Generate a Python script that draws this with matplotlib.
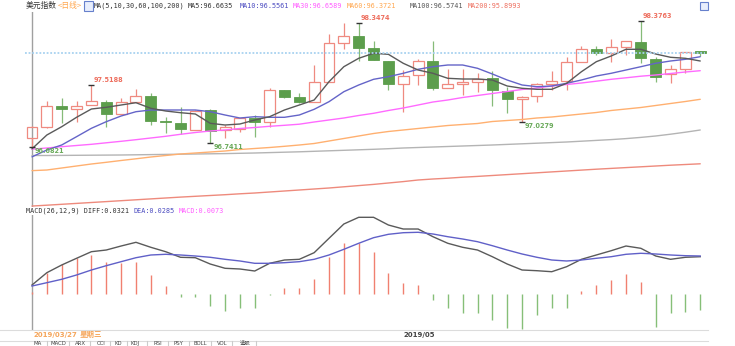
import matplotlib
matplotlib.use('Agg')
import matplotlib.pyplot as plt
from matplotlib.patches import Rectangle
from matplotlib.lines import Line2D

W, H = 735, 346

# ---------------- data ----------------
opens = [96.8119, 96.9587, 97.2391, 97.1910, 97.2444, 97.2925, 97.1243, 97.2925, 97.3726, 97.0388,
         97.0121, 96.9147, 97.1817, 96.9147, 96.9280, 97.0709, 97.0175, 97.4487, 97.3513, 97.2925,
         97.5595, 98.0802, 98.1697, 98.0054, 97.8359, 97.5248, 97.6490, 97.8359, 97.4714, 97.5248,
         97.5515, 97.6049, 97.4393, 97.3285, 97.3686, 97.5248, 97.5729, 97.8185, 97.9961, 97.9387,
         98.0268, 98.0935, 97.8626, 97.6583, 97.7291, 97.9694]
closes = [96.9587, 97.2391, 97.1910, 97.2351, 97.2978, 97.1283, 97.2925, 97.3726, 97.0388, 97.0255,
          96.9240, 97.1723, 96.9013, 96.9587, 97.0709, 97.0175, 97.4487, 97.3593, 97.2925, 97.5515,
          98.0722, 98.1697, 98.0054, 97.8492, 97.5248, 97.6396, 97.8399, 97.4714, 97.5248, 97.5555,
          97.5915, 97.4487, 97.3285, 97.3593, 97.5248, 97.5729, 97.8185, 97.9961, 97.9387, 98.0188,
          98.1029, 97.8719, 97.6263, 97.7291, 97.9600, 97.9387]
highs = [96.9650, 97.3018, 97.3379, 97.3018, 97.5188, 97.3152, 97.3379, 97.4621, 97.4127, 97.0842,
         97.2177, 97.1817, 97.1950, 96.9750, 97.0709, 97.1149, 97.4794, 97.4487, 97.4127, 97.7825,
         98.1964, 98.3392, 98.3474, 98.1069, 97.8399, 97.7157, 97.8586, 98.1069, 97.7251, 97.7251,
         97.6797, 97.7064, 97.4848, 97.3686, 97.5462, 97.7064, 97.8853, 98.0402, 98.0402, 98.1256,
         98.1029, 98.3763, 97.8933, 97.7825, 97.9600, 97.9694]
lows = [96.6821, 96.9480, 97.0041, 97.0255, 97.2444, 96.9587, 97.1243, 97.2925, 96.9814, 96.8706,
        96.8613, 96.9147, 96.7411, 96.8038, 96.8920, 96.8172, 96.9587, 97.3379, 97.2818, 97.2925,
        97.5595, 97.9921, 97.8399, 97.8492, 97.4487, 97.1590, 97.5155, 97.4487, 97.4714, 97.3819,
        97.4260, 97.2351, 97.1376, 97.0279, 97.2845, 97.4487, 97.4487, 97.8185, 97.9160, 97.8265,
        97.9160, 97.8052, 97.5595, 97.5462, 97.6797, 97.9026]

ma5 = [96.6635, 96.8479, 96.9587, 97.0842, 97.1950, 97.2177, 97.2484, 97.2791, 97.2044, 97.1683,
       97.1456, 97.1283, 97.0041, 96.9814, 96.9948, 97.0482, 97.0922, 97.1817, 97.2484, 97.3152,
       97.5595, 97.7598, 97.8719, 97.9387, 97.9253, 97.8052, 97.7157, 97.6717, 97.6049, 97.5955,
       97.5955, 97.5822, 97.5021, 97.4714, 97.4580, 97.4580, 97.5382, 97.6930, 97.8265, 97.9026,
       97.9921, 97.9921, 97.9293, 97.8853, 97.8719, 97.8359]
ma10 = [96.5561, 96.6476, 96.7144, 96.8252, 96.9374, 97.0255, 97.1016, 97.1590, 97.1817, 97.1817,
        97.1817, 97.1817, 97.1590, 97.1149, 97.0749, 97.0922, 97.0842, 97.0842, 97.1149, 97.1910,
        97.2925, 97.4260, 97.5155, 97.5915, 97.6263, 97.6717, 97.7251, 97.7598, 97.7825, 97.7825,
        97.7384, 97.6623, 97.5822, 97.5155, 97.4928, 97.5021, 97.5382, 97.5822, 97.6356, 97.6717,
        97.7157, 97.7598, 97.8052, 97.8359, 97.8586, 97.8933]
ma30 = [96.6589, 96.6743, 96.6917, 96.7077, 96.7237, 96.7438, 96.7638, 96.7852, 96.8079, 96.8306,
        96.8573, 96.8813, 96.9013, 96.9147, 96.9347, 96.9480, 96.9641, 96.9774, 96.9921, 97.0215,
        97.0482, 97.0749, 97.1083, 97.1376, 97.1750, 97.2084, 97.2484, 97.2885, 97.3152, 97.3486,
        97.3753, 97.4020, 97.4287, 97.4554, 97.4754, 97.5021, 97.5221, 97.5422, 97.5662, 97.5915,
        97.6116, 97.6330, 97.6490, 97.6690, 97.6890, 97.7064]
ma60 = [96.3721, 96.3806, 96.4073, 96.4340, 96.4607, 96.4834, 96.5075, 96.5302, 96.5542, 96.5742,
        96.5942, 96.6076, 96.6209, 96.6343, 96.6543, 96.6677, 96.6810, 96.6970, 96.7144, 96.7344,
        96.7678, 96.8012, 96.8346, 96.8679, 96.8946, 96.9147, 96.9347, 96.9547, 96.9747, 96.9881,
        97.0014, 97.0281, 97.0415, 97.0548, 97.0749, 97.0882, 97.1083, 97.1283, 97.1483, 97.1750,
        97.1950, 97.2151, 97.2418, 97.2685, 97.2952, 97.3245]
ma100 = [96.5741, 96.5742, 96.5755, 96.5769, 96.5782, 96.5796, 96.5809, 96.5836, 96.5862, 96.5889,
         96.5916, 96.5942, 96.5969, 96.5996, 96.6036, 96.6076, 96.6129, 96.6183, 96.6236, 96.6303,
         96.6370, 96.6436, 96.6503, 96.6570, 96.6650, 96.6743, 96.6810, 96.6877, 96.6944, 96.7010,
         96.7077, 96.7144, 96.7224, 96.7304, 96.7384, 96.7464, 96.7545, 96.7651, 96.7758, 96.7865,
         96.7998, 96.8159, 96.8346, 96.8586, 96.8853, 96.9147]
ma200 = [95.8993, 95.9107, 95.9227, 95.9347, 95.9467, 95.9587, 95.9708, 95.9828, 95.9948, 96.0068,
         96.0188, 96.0295, 96.0402, 96.0508, 96.0629, 96.0735, 96.0869, 96.1003, 96.1136, 96.1270,
         96.1403, 96.1563, 96.1724, 96.1884, 96.2071, 96.2258, 96.2471, 96.2605, 96.2711, 96.2845,
         96.2952, 96.3072, 96.3192, 96.3312, 96.3432, 96.3553, 96.3673, 96.3793, 96.3913, 96.4020,
         96.4127, 96.4233, 96.4340, 96.4447, 96.4540, 96.4634]

diff = [0.0321, 0.0761, 0.1036, 0.1275, 0.1511, 0.1571, 0.1714, 0.1846, 0.1668, 0.1511,
        0.1311, 0.1296, 0.1071, 0.0918, 0.0893, 0.0821, 0.1096, 0.1214, 0.1239, 0.1475,
        0.1989, 0.2500, 0.2739, 0.2739, 0.2464, 0.2321, 0.2321, 0.2046, 0.1811, 0.1668,
        0.1571, 0.1332, 0.1071, 0.0857, 0.0832, 0.0796, 0.0975, 0.1239, 0.1393, 0.1546,
        0.1714, 0.1632, 0.1357, 0.1239, 0.1311, 0.1332]
dea = [0.0285, 0.0404, 0.0525, 0.0679, 0.0857, 0.1011, 0.1154, 0.1296, 0.1393, 0.1418,
       0.1393, 0.1357, 0.1311, 0.1239, 0.1179, 0.1096, 0.1096, 0.1118, 0.1154, 0.1239,
       0.1393, 0.1596, 0.1811, 0.2011, 0.2132, 0.2189, 0.2204, 0.2143, 0.2046, 0.1964,
       0.1868, 0.1725, 0.1571, 0.1429, 0.1311, 0.1214, 0.1179, 0.1214, 0.1275, 0.1332,
       0.1418, 0.1454, 0.1429, 0.1393, 0.1368, 0.1357]
macd_hist = [0.0073, 0.0761, 0.1061, 0.1296, 0.1393, 0.1154, 0.1118, 0.1154, 0.0679, 0.0286,
             -0.0118, -0.0096, -0.0429, -0.0596, -0.0511, -0.0511, -0.0020, 0.0204, 0.0225, 0.0525,
             0.1311, 0.1832, 0.1832, 0.1489, 0.0761, 0.0404, 0.0321, -0.0214, -0.0511, -0.0668,
             -0.0689, -0.0929, -0.1204, -0.1261, -0.0750, -0.0511, -0.0511, 0.0118, 0.0321, 0.0500,
             0.0714, 0.0439, -0.1168, -0.0689, -0.0632, -0.0571]

high_label_idx = [4, 22, 41]
low_label_idx = [0, 12, 33]
cursor_idx = 0
cursor_date = "2019/03/27"
cursor_weekday = "星期三"
month_label = "2019/05"
month_label_idx = 25
tab_labels = ["MA", "MACD", "ARX", "CCI", "KD", "KDJ", "RSI", "PSY", "BOLL", "VOL", "选股"]

# ---------------- figure ----------------
fig = plt.figure(figsize=(W / 100, H / 100), dpi=100)
fig.patch.set_facecolor('white')

STEP = 14.85   # px per candle
X0 = 32.0      # px of first candle
def px_to_i(px):
    return (px - X0) / STEP

def fbox(top_px, bot_px, left_px=0, right_px=708):
    return [left_px / W, 1 - bot_px / H, (right_px - left_px) / W, (bot_px - top_px) / H]

PPU = 74.9
def px_to_price(ypx):
    return 96.7411 + (143 - ypx) / PPU

ax = fig.add_axes(fbox(12, 207))
ax.set_xlim(px_to_i(0), px_to_i(708))
ax.set_ylim(px_to_price(207), px_to_price(12))
ax.axis('off')

MPU = 280.0
ax2 = fig.add_axes(fbox(207, 330))
ax2.set_xlim(px_to_i(0), px_to_i(708))
ax2.set_ylim((294 - 330) / MPU, (294 - 207) / MPU)
ax2.axis('off')

UP = '#ef8a80'
DN_FACE = '#5c9e4c'
DN_WICK = '#86bb78'
BW = 0.74

for i, (o, h, l, c) in enumerate(zip(opens, highs, lows, closes)):
    if c >= o:
        ax.vlines(i, max(o, c), h, color=UP, lw=0.9, zorder=2)
        ax.vlines(i, l, min(o, c), color=UP, lw=0.9, zorder=2)
        ax.add_patch(Rectangle((i - BW / 2, o), BW, max(c - o, 0.002),
                               facecolor='none', edgecolor=UP, lw=0.9, zorder=3))
    else:
        ax.vlines(i, l, h, color=DN_WICK, lw=0.9, zorder=2)
        ax.add_patch(Rectangle((i - BW / 2, c), BW, o - c,
                               facecolor=DN_FACE, edgecolor=DN_FACE, lw=0.6, zorder=3))

xs = list(range(len(opens)))
for vals, col in [(ma200, '#ee8a7c'), (ma100, '#b4b4b4'), (ma60, '#ffb070'),
                  (ma30, '#ff6aff'), (ma10, '#6464c8'), (ma5, '#5a5a5a')]:
    ax.plot(xs, vals, color=col, lw=1.0, zorder=4, solid_capstyle='round')

ax.hlines(closes[-1], px_to_i(25), px_to_i(705), colors='#a8d2f0', lw=1.3,
          linestyles=(0, (1, 1)), zorder=5)

for i in high_label_idx:
    ax.plot(i, highs[i], marker='_', ms=4, mew=1.0, color='#333333', zorder=6)
    ax.annotate(f"{highs[i]:.4f}", (i, highs[i]), xytext=(2, 4.5), textcoords='offset pixels',
                ha='left', va='center', fontsize=4.7, color='#ee7060', fontweight='bold',
                family='DejaVu Sans', zorder=7)
for i in low_label_idx:
    ax.plot(i, lows[i], marker='_', ms=4, mew=1.0, color='#333333', zorder=6)
    ax.annotate(f"{lows[i]:.4f}", (i, lows[i]), xytext=(3, -4), textcoords='offset pixels',
                ha='left', va='center', fontsize=4.7, color='#6aaa5a', fontweight='bold',
                family='DejaVu Sans', zorder=7)

for i, v in enumerate(macd_hist):
    ax2.vlines(i, 0, v, color='#f08070' if v > 0 else '#86bf78', lw=1.0, zorder=2)
ax2.plot(xs, diff, color='#5a5a5a', lw=1.0, zorder=4)
ax2.plot(xs, dea, color='#6060c8', lw=1.0, zorder=4)

ax.axvline(cursor_idx, color='#a0a0a0', lw=1.0, zorder=1)
ax2.axvline(cursor_idx, color='#a0a0a0', lw=1.0, zorder=1)

fig.add_artist(Line2D([0, 708 / W], [1 - 330 / H] * 2, color='#dcdcdc', lw=0.8))
fig.add_artist(Line2D([0, 708 / W], [1 - 340.5 / H] * 2, color='#dcdcdc', lw=0.8))

# ---------------- texts ----------------
MONO = 'DejaVu Sans Mono'
CJK = 'Noto Sans CJK SC'
def ftext(x, y, s, fam=MONO, size=4.9, color='#333333', **kw):
    return fig.text(x / W, 1 - y / H, s, ha='left', va='center', fontsize=size,
                    family=fam, color=color, **kw)

ftext(26, 6, "美元指数", fam=CJK, size=5.6, color='#333333')
ftext(58, 6, "<日线>", fam=[CJK], size=5.6, color='#ffa64d')
fig.add_artist(Rectangle((83.5 / W, 1 - 10.5 / H), 9 / W, 9 / H, transform=fig.transFigure,
                         facecolor='#e8eefc', edgecolor='#6680cc', lw=0.8))
ftext(94, 6, "MA(5,10,30,60,100,200)")
ftext(188, 6, f"MA5:{ma5[cursor_idx]:.4f}", color='#333333')
ftext(240, 6, f"MA10:{ma10[cursor_idx]:.4f}", color='#4a4ac0')
ftext(293, 6, f"MA30:{ma30[cursor_idx]:.4f}", color='#ff5cff')
ftext(347, 6, f"MA60:{ma60[cursor_idx]:.4f}", color='#ffa64d')
ftext(410, 6, f"MA100:{ma100[cursor_idx]:.4f}", color='#555555')
ftext(468, 6, f"MA200:{ma200[cursor_idx]:.4f}", color='#ee6f5f')
fig.add_artist(Rectangle((700 / W, 1 - 10 / H), 8 / W, 8 / H, transform=fig.transFigure,
                         facecolor='#e8eefc', edgecolor='#6680cc', lw=0.8))

ftext(26, 211, f"MACD(26,12,9) DIFF:{diff[cursor_idx]:.4f}", color='#333333',
      bbox=dict(facecolor='white', edgecolor='none', pad=0.3))
ftext(133, 211, f"DEA:{dea[cursor_idx]:.4f}", color='#4a4ac0')
ftext(179, 211, f"MACD:{macd_hist[cursor_idx]:.4f}", color='#ff5cff')

ftext(33, 334.5, cursor_date, fam='DejaVu Sans', size=5.0, color='#f5a55a', fontweight='bold')
ftext(80, 334.5, cursor_weekday, fam=CJK, size=5.4, color='#f5a55a', fontweight='bold')
ax2.annotate(month_label, (month_label_idx, 0), xycoords=('data', 'axes fraction'),
             xytext=(0, -5), textcoords='offset pixels', ha='left', va='center',
             fontsize=5.0, color='#444444', family='DejaVu Sans', fontweight='bold')

# tab row (kept fully inside the picture)
tab_x = [37.5, 58.5, 80.5, 101, 118, 135, 157.5, 178, 200.5, 222, 245]
sep_x = [47, 69, 90, 110, 127, 147, 168, 189, 211, 232, 256]
for tx, lab in zip(tab_x, tab_labels):
    fig.text(tx / W, 1 - 345.6 / H, lab, ha='center', va='bottom', fontsize=3.9,
             family=['DejaVu Sans', CJK], color='#444444')
for sx in sep_x:
    fig.add_artist(Line2D([sx / W] * 2, [0, 1 - 341 / H], color='#cccccc', lw=0.8))

fig.savefig('out.png', dpi=100, facecolor='white')
